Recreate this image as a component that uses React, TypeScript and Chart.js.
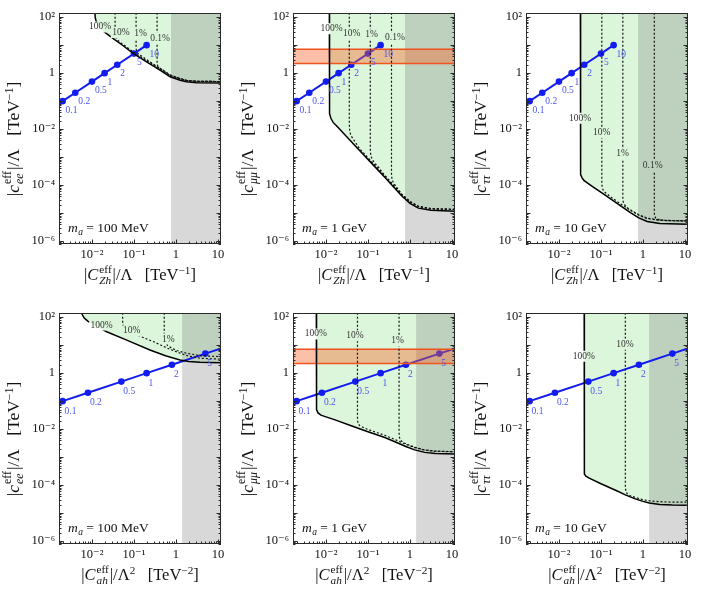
import React, { useEffect, useRef } from 'react';
import { Chart, registerables } from 'chart.js';

Chart.register(...registerables);

type Pt = [number, number];

/* ---------------- data ---------------- */
const X_RANGE: Pt = [0.00164, 11.8];
const Y_RANGE: Pt = [7.9e-7, 141];
const X_TICKS = [0.01, 0.1, 1, 10];
const X_TICK_LABELS = ['10⁻²', '10⁻¹', '1', '10'];
const Y_TICKS = [1e-6, 1e-4, 1e-2, 1, 100];
const Y_TICK_LABELS = ['10⁻⁶', '10⁻⁴', '10⁻²', '1', '10²'];

const BENCH_LABELS = ['0.1', '0.2', '0.5', '1', '2', '5', '10'];
const BENCH_ZH_X = [0.002, 0.004, 0.01, 0.02, 0.04, 0.1, 0.2];
const BENCH_ZH_Y = [0.1, 0.2, 0.5, 1, 2, 5, 10];
const BENCH_ZH_START: Pt = [0.00164, 0.082];
const BENCH_AH_X = [0.002, 0.008, 0.05, 0.2, 0.8, 5];
const BENCH_AH_Y = [0.1, 0.2, 0.5, 1, 2, 5];
const BENCH_AH_START: Pt = [0.00164, 0.0905];
const BENCH_AH_END: Pt = [11.8, 7.67];

const GRAY_FROM_ZH = 0.76;
const GRAY_FROM_AH = 1.4;
const MUON_BAND: Pt = [2.2, 7.2];

// m_a = 100 MeV, c_ee vs C_Zh
const SOLID_EE_ZH: Pt[] = [[0.01175, 200], [0.01189, 100], [0.01259, 70.8], [0.01413, 50.1], [0.0166, 38.0], [0.0186, 31.6], [0.0316, 17.4], [0.0562, 9.33], [0.0955, 5.13], [0.1995, 2.51], [0.417, 1.29], [0.724, 0.741], [1.259, 0.562], [1.778, 0.49], [3.16, 0.457], [12.6, 0.447]];
const DOT10_EE_ZH: Pt[] = [[0.0355, 200], [0.0355, 26.3], [0.0363, 21.4], [0.038, 18.2], [0.0417, 14.8], [0.0501, 11.7], [0.0562, 10.5], [0.0955, 5.75], [0.1995, 2.82], [0.417, 1.445], [0.724, 0.832], [1.259, 0.631], [1.778, 0.55], [3.16, 0.513], [12.6, 0.501]];
const DOT1_EE_ZH: Pt[] = [[0.1122, 200], [0.1122, 7.94], [0.1148, 6.31], [0.1202, 5.37], [0.1318, 4.68], [0.1585, 3.89], [0.1995, 3.09], [0.417, 1.445], [0.724, 0.832], [1.259, 0.631], [1.778, 0.55], [3.16, 0.513], [12.6, 0.501]];
const DOT01_EE_ZH: Pt[] = [[0.355, 200], [0.355, 2.29], [0.363, 1.905], [0.38, 1.7], [0.417, 1.51], [0.501, 1.26], [0.724, 0.871], [1.259, 0.646], [1.778, 0.55], [3.16, 0.513], [12.6, 0.501]];

// m_a = 1 GeV, c_mumu vs C_Zh
const SOLID_MM_ZH: Pt[] = [[0.01202, 200], [0.01202, 0.0562], [0.0123, 0.0355], [0.01318, 0.024], [0.01479, 0.0174], [0.01778, 0.01318], [0.0316, 0.00525], [0.0631, 0.001738], [0.1259, 5.75e-4], [0.2512, 1.905e-4], [0.398, 8.91e-5], [0.631, 4.17e-5], [1.0, 2.24e-5], [1.585, 1.51e-5], [3.16, 1.26e-5], [12.6, 1.175e-5]];
const DOT10_MM_ZH: Pt[] = [[0.0359, 200], [0.0359, 0.01585], [0.0367, 0.00891], [0.0389, 0.00603], [0.0447, 0.00437], [0.0631, 0.002], [0.1259, 6.61e-4], [0.2512, 2.19e-4], [0.398, 1.023e-4], [0.631, 4.79e-5], [1.0, 2.57e-5], [1.585, 1.74e-5], [3.16, 1.445e-5], [12.6, 1.35e-5]];
const DOT1_MM_ZH: Pt[] = [[0.1135, 200], [0.1135, 0.002], [0.1161, 0.00126], [0.123, 9.12e-4], [0.1413, 6.31e-4], [0.1778, 4.37e-4], [0.2512, 2.19e-4], [0.398, 1.023e-4], [0.631, 4.79e-5], [1.0, 2.57e-5], [1.585, 1.74e-5], [3.16, 1.445e-5], [12.6, 1.35e-5]];
const DOT01_MM_ZH: Pt[] = [[0.363, 200], [0.363, 2.51e-4], [0.3715, 1.66e-4], [0.398, 1.26e-4], [0.468, 8.91e-5], [0.631, 4.79e-5], [1.0, 2.57e-5], [1.585, 1.74e-5], [3.16, 1.445e-5], [12.6, 1.35e-5]];

// m_a = 10 GeV, c_tautau vs C_Zh
const SOLID_TT_ZH: Pt[] = [[0.03236, 200], [0.03236, 3.55e-4], [0.0331, 2.4e-4], [0.0355, 1.82e-4], [0.0398, 1.445e-4], [0.0631, 8.91e-5], [0.1259, 4.37e-5], [0.2512, 2.14e-5], [0.501, 1.047e-5], [0.794, 6.76e-6], [1.259, 5.01e-6], [2.512, 4.27e-6], [12.6, 3.98e-6]];
const DOT10_TT_ZH: Pt[] = [[0.1047, 200], [0.1047, 1.122e-4], [0.1072, 7.94e-5], [0.1148, 6.31e-5], [0.1318, 5.13e-5], [0.1778, 3.63e-5], [0.2512, 2.51e-5], [0.501, 1.259e-5], [0.794, 8.51e-6], [1.259, 6.46e-6], [2.512, 5.5e-6], [12.6, 5.25e-6]];
const DOT1_TT_ZH: Pt[] = [[0.3311, 200], [0.3311, 3.55e-5], [0.3388, 2.51e-5], [0.363, 2.0e-5], [0.417, 1.585e-5], [0.501, 1.318e-5], [0.794, 8.71e-6], [1.259, 6.61e-6], [2.512, 5.62e-6], [12.6, 5.25e-6]];
const DOT01_TT_ZH: Pt[] = [[1.862, 200], [1.862, 1e-5], [1.905, 7.59e-6], [2.042, 6.46e-6], [2.512, 5.75e-6], [3.98, 5.37e-6], [12.6, 5.25e-6]];

// m_a = 100 MeV, c_ee vs C_ah
const SOLID_EE_AH: Pt[] = [[0.00537, 200], [0.00575, 131.8], [0.00646, 95.5], [0.00794, 72.4], [0.01122, 52.5], [0.0224, 30.2], [0.0631, 15.85], [0.2399, 6.76], [0.5623, 4.17], [1.245, 2.95], [1.995, 2.63], [3.715, 2.455], [12.6, 2.37]];
const DOT10_EE_AH: Pt[] = [[0.0537, 200], [0.0537, 60.3], [0.0562, 41.7], [0.0631, 33.9], [0.0891, 26.9], [0.138, 20.9], [0.3162, 12.6], [0.631, 7.76], [1.259, 5.13], [1.995, 4.07], [3.98, 3.39], [12.6, 3.16]];
const DOT1_EE_AH: Pt[] = [[0.5248, 200], [0.5248, 19.95], [0.5495, 13.2], [0.631, 9.77], [0.794, 7.76], [1.047, 6.46], [1.778, 5.13], [3.98, 4.17], [12.6, 3.89]];

// m_a = 1 GeV, c_mumu vs C_ah
const SOLID_MM_AH: Pt[] = [[0.00589, 200], [0.00589, 0.0708], [0.00603, 0.0501], [0.00646, 0.038], [0.00759, 0.0316], [0.01, 0.0275], [0.01585, 0.0219], [0.0398, 0.01318], [0.1, 0.00813], [0.2512, 0.00501], [0.4365, 0.00355], [0.794, 0.0024], [1.288, 0.00182], [2.239, 0.00148], [3.98, 0.00135], [12.6, 0.00129]];
const DOT10_MM_AH: Pt[] = [[0.0562, 200], [0.0562, 0.024], [0.0575, 0.0166], [0.0631, 0.01349], [0.0794, 0.01122], [0.1, 0.00977], [0.2512, 0.00603], [0.4365, 0.00427], [0.794, 0.00288], [1.288, 0.00219], [2.239, 0.00178], [3.98, 0.00162], [12.6, 0.00155]];
const DOT1_MM_AH: Pt[] = [[0.5495, 200], [0.5495, 0.00708], [0.5623, 0.00501], [0.6026, 0.00398], [0.708, 0.00324], [1.0, 0.00263], [1.288, 0.00226], [2.239, 0.0018], [3.98, 0.00164], [12.6, 0.00157]];

// m_a = 10 GeV, c_tautau vs C_ah
const SOLID_TT_AH: Pt[] = [[0.0398, 200], [0.0398, 3.55e-4], [0.0407, 2.51e-4], [0.0437, 2.09e-4], [0.0525, 1.78e-4], [0.1, 1.122e-4], [0.2512, 6.03e-5], [0.38, 4.47e-5], [0.631, 3.31e-5], [1.0, 2.63e-5], [1.413, 2.29e-5], [2.512, 2.04e-5], [5.01, 1.95e-5], [12.6, 1.905e-5]];
const DOT10_TT_AH: Pt[] = [[0.38, 200], [0.38, 8.91e-5], [0.389, 6.31e-5], [0.417, 5.01e-5], [0.501, 4.17e-5], [0.631, 3.72e-5], [1.0, 3.02e-5], [1.585, 2.69e-5], [3.16, 2.51e-5], [12.6, 2.45e-5]];

/* ---------------- styling / layout ---------------- */
const SERIF = "'Liberation Serif', 'DejaVu Serif', 'Times New Roman', serif";
const GREEN = 'rgb(219,246,219)';
const GRAY = 'rgba(115,115,115,0.28)';
const BLUE = 'rgb(18,28,240)';
const LABEL_BLUE = 'rgb(75,85,235)';
const ORANGE_FILL = 'rgba(245,105,45,0.42)';
const ORANGE_LINE = 'rgb(240,80,30)';

const YW = 48, PT = 8, PR = 8, XH = 24, FW = 162, FH = 231;

interface PctLabel { t: string; x: number; y: number }
interface PanelCfg {
  left: number; top: number;
  solid: Pt[]; dotted: Pt[][]; grayFrom: number; band?: Pt;
  benchX: number[]; benchY: number[]; benchStart: Pt; benchEnd?: Pt;
  labOff: Pt; pct: PctLabel[]; mass: string;
}

const PANELS: PanelCfg[] = [
  { left: 59, top: 13, solid: SOLID_EE_ZH, dotted: [DOT10_EE_ZH, DOT1_EE_ZH, DOT01_EE_ZH], grayFrom: GRAY_FROM_ZH,
    benchX: BENCH_ZH_X, benchY: BENCH_ZH_Y, benchStart: BENCH_ZH_START, labOff: [3, 9], mass: '100 MeV',
    pct: [{ t: '100%', x: 0.0155, y: 45 }, { t: '10%', x: 0.049, y: 28.5 }, { t: '1%', x: 0.143, y: 25.6 }, { t: '0.1%', x: 0.417, y: 18 }] },
  { left: 293, top: 13, solid: SOLID_MM_ZH, dotted: [DOT10_MM_ZH, DOT1_MM_ZH, DOT01_MM_ZH], grayFrom: GRAY_FROM_ZH, band: MUON_BAND,
    benchX: BENCH_ZH_X, benchY: BENCH_ZH_Y, benchStart: BENCH_ZH_START, labOff: [3, 9], mass: '1 GeV',
    pct: [{ t: '100%', x: 0.01368, y: 39 }, { t: '10%', x: 0.0409, y: 26 }, { t: '1%', x: 0.1225, y: 23.5 }, { t: '0.1%', x: 0.44, y: 18.3 }] },
  { left: 526, top: 13, solid: SOLID_TT_ZH, dotted: [DOT10_TT_ZH, DOT1_TT_ZH, DOT01_TT_ZH], grayFrom: GRAY_FROM_ZH,
    benchX: BENCH_ZH_X, benchY: BENCH_ZH_Y, benchStart: BENCH_ZH_START, labOff: [3, 9], mass: '10 GeV',
    pct: [{ t: '100%', x: 0.0316, y: 0.0245 }, { t: '10%', x: 0.104, y: 0.0075 }, { t: '1%', x: 0.329, y: 0.0013 }, { t: '0.1%', x: 1.7, y: 0.0005 }] },
  { left: 59, top: 313, solid: SOLID_EE_AH, dotted: [DOT10_EE_AH, DOT1_EE_AH], grayFrom: GRAY_FROM_AH,
    benchX: BENCH_AH_X, benchY: BENCH_AH_Y, benchStart: BENCH_AH_START, benchEnd: BENCH_AH_END, labOff: [2, 10], mass: '100 MeV',
    pct: [{ t: '100%', x: 0.017, y: 52.5 }, { t: '10%', x: 0.088, y: 32.1 }, { t: '1%', x: 0.656, y: 16.6 }] },
  { left: 293, top: 313, solid: SOLID_MM_AH, dotted: [DOT10_MM_AH, DOT1_MM_AH], grayFrom: GRAY_FROM_AH, band: MUON_BAND,
    benchX: BENCH_AH_X, benchY: BENCH_AH_Y, benchStart: BENCH_AH_START, benchEnd: BENCH_AH_END, labOff: [2, 10], mass: '1 GeV',
    pct: [{ t: '100%', x: 0.00572, y: 25.1 }, { t: '10%', x: 0.049, y: 21.7 }, { t: '1%', x: 0.504, y: 14.1 }] },
  { left: 526, top: 313, solid: SOLID_TT_AH, dotted: [DOT10_TT_AH], grayFrom: GRAY_FROM_AH,
    benchX: BENCH_AH_X, benchY: BENCH_AH_Y, benchStart: BENCH_AH_START, benchEnd: BENCH_AH_END, labOff: [2, 10], mass: '10 GeV',
    pct: [{ t: '100%', x: 0.039, y: 4.02 }, { t: '10%', x: 0.373, y: 10.8 }] },
];

const toXY = (pts: Pt[]) => pts.map(([x, y]) => ({ x, y }));
const tickLabel = (v: number, ticks: number[], labels: string[]) => {
  const i = ticks.findIndex((t) => Math.abs(Math.log10(t) - Math.log10(v)) < 1e-6);
  return i >= 0 ? labels[i] : '';
};

function decor(p: PanelCfg) {
  const pctFont = `9.5px ${SERIF}`;
  const gapRects = (chart: any) => {
    const ctx = chart.ctx;
    ctx.save();
    ctx.font = pctFont;
    const xs = chart.scales.x, ys = chart.scales.y;
    const r = p.pct.map((l) => {
      const w = ctx.measureText(l.t).width + 3;
      const cx = xs.getPixelForValue(l.x), cy = ys.getPixelForValue(l.y);
      return { x: cx - w / 2, y: cy - 5.5, w, h: 11 };
    });
    ctx.restore();
    return r;
  };
  return {
    id: 'decor',
    beforeDatasetDraw(chart: any, args: any) {
      const ds = chart.data.datasets[args.index];
      if (!ds.gapped) return;
      const ctx = chart.ctx;
      const rects = gapRects(chart);
      ctx.save();
      ctx.beginPath();
      ctx.rect(0, 0, chart.width, chart.height);
      rects.forEach((r: any) => ctx.rect(r.x, r.y, r.w, r.h));
      ctx.clip('evenodd');
    },
    afterDatasetDraw(chart: any, args: any) {
      const ds = chart.data.datasets[args.index];
      if (!ds.gapped) return;
      chart.ctx.restore();
    },
    afterDatasetsDraw(chart: any) {
      const ctx = chart.ctx;
      const xs = chart.scales.x, ys = chart.scales.y;
      ctx.save();
      ctx.font = pctFont;
      ctx.fillStyle = '#333';
      ctx.textAlign = 'center';
      ctx.textBaseline = 'middle';
      p.pct.forEach((l) => ctx.fillText(l.t, xs.getPixelForValue(l.x), ys.getPixelForValue(l.y)));
      ctx.font = `9.5px ${SERIF}`;
      ctx.fillStyle = LABEL_BLUE;
      ctx.textAlign = 'left';
      p.benchX.forEach((x, i) => {
        ctx.fillText(BENCH_LABELS[i], xs.getPixelForValue(x) + p.labOff[0], ys.getPixelForValue(p.benchY[i]) + p.labOff[1]);
      });
      const { left, bottom } = chart.chartArea;
      let x = left + 9;
      const y = bottom - 12;
      ctx.textBaseline = 'alphabetic';
      ctx.fillStyle = '#111';
      ctx.font = `italic 13.5px ${SERIF}`;
      ctx.fillText('m', x, y);
      x += ctx.measureText('m').width;
      ctx.font = `italic 9.5px ${SERIF}`;
      ctx.fillText('a', x + 0.5, y + 3);
      x += ctx.measureText('a').width + 0.5;
      ctx.font = `13.5px ${SERIF}`;
      ctx.fillText(' = ' + p.mass, x, y);
      ctx.restore();
    },
    afterDraw(chart: any) {
      const ctx = chart.ctx;
      const { left, right, top, bottom } = chart.chartArea;
      const xs = chart.scales.x, ys = chart.scales.y;
      ctx.save();
      ctx.strokeStyle = '#2a2a2a';
      ctx.lineWidth = 1;
      ctx.beginPath();
      for (let e = -3; e <= 1; e++) {
        for (let m = 1; m <= 9; m++) {
          const v = m * Math.pow(10, e);
          if (v < X_RANGE[0] || v > X_RANGE[1]) continue;
          const px = Math.round(xs.getPixelForValue(v)) + 0.5;
          const len = m === 1 ? 4.5 : 2.5;
          ctx.moveTo(px, bottom);
          ctx.lineTo(px, bottom - len);
        }
      }
      for (let e = -7; e <= 2; e++) {
        for (let m = 1; m <= 9; m++) {
          const v = m * Math.pow(10, e);
          if (v < Y_RANGE[0] || v > Y_RANGE[1]) continue;
          const py = Math.round(ys.getPixelForValue(v)) + 0.5;
          const len = m === 1 ? 4.5 : 2.5;
          ctx.moveTo(left, py);
          ctx.lineTo(left + len, py);
          ctx.moveTo(right, py);
          ctx.lineTo(right - len, py);
        }
      }
      ctx.stroke();
      ctx.strokeRect(left + 0.5, top + 0.5, right - left - 1, bottom - top - 1);
      ctx.restore();
    },
  };
}

function buildConfig(p: PanelCfg): any {
  const benchData: Pt[] = [p.benchStart, ...p.benchX.map((x, i) => [x, p.benchY[i]] as Pt)];
  const radii = [0, ...p.benchX.map(() => 3.3)];
  if (p.benchEnd) { benchData.push(p.benchEnd); radii.push(0); }
  const datasets: any[] = [
    { data: toXY(p.solid), borderColor: '#000', borderWidth: 1.5, pointRadius: 0, fill: false, order: 1, clip: 0, gapped: true },
    ...p.dotted.map((d) => ({ data: toXY(d), borderColor: '#111', borderWidth: 1.2, borderDash: [2, 2], pointRadius: 0, fill: false, order: 2, clip: 0, gapped: true })),
  ];
  if (p.band) {
    datasets.push(
      { data: toXY([[X_RANGE[0], p.band[1]], [X_RANGE[1], p.band[1]]]), borderColor: ORANGE_LINE, borderWidth: 1.5, backgroundColor: ORANGE_FILL, fill: '+1', pointRadius: 0, order: 3, clip: 0 },
      { data: toXY([[X_RANGE[0], p.band[0]], [X_RANGE[1], p.band[0]]]), borderColor: ORANGE_LINE, borderWidth: 1.5, fill: false, pointRadius: 0, order: 3, clip: 0 },
    );
  }
  datasets.push(
    { data: toXY(benchData), borderColor: BLUE, backgroundColor: BLUE, borderWidth: 2, pointRadius: radii, pointBorderWidth: 0, pointBackgroundColor: BLUE, fill: false, order: 4 },
    { data: toXY([[p.grayFrom, Y_RANGE[1]], [X_RANGE[1], Y_RANGE[1]]]), borderWidth: 0, pointRadius: 0, backgroundColor: GRAY, fill: 'start', order: 5, clip: 0 },
    { data: toXY(p.solid), borderWidth: 0, pointRadius: 0, backgroundColor: GREEN, fill: 'end', order: 6, clip: 0 },
  );
  const tickFont = { family: SERIF, size: 12.5 };
  return {
    type: 'line',
    data: { datasets },
    options: {
      animation: false,
      responsive: false,
      events: [],
      layout: { padding: { left: 0, top: PT, right: PR, bottom: 0 } },
      plugins: { legend: { display: false }, tooltip: { enabled: false } },
      scales: {
        x: {
          type: 'logarithmic', position: 'bottom', min: X_RANGE[0], max: X_RANGE[1],
          grid: { display: false, drawTicks: false }, border: { display: false },
          ticks: { autoSkip: false, maxRotation: 0, padding: 3, font: tickFont, color: '#111',
            callback: (v: number) => tickLabel(v, X_TICKS, X_TICK_LABELS) },
          afterBuildTicks: (s: any) => { s.ticks = X_TICKS.map((v) => ({ value: v })); },
          afterFit: (s: any) => { s.height = XH; s.paddingLeft = 0; s.paddingRight = 0; },
        },
        y: {
          type: 'logarithmic', position: 'left', min: Y_RANGE[0], max: Y_RANGE[1],
          grid: { display: false, drawTicks: false }, border: { display: false },
          ticks: { autoSkip: false, padding: 4, font: tickFont, color: '#111',
            callback: (v: number) => tickLabel(v, Y_TICKS, Y_TICK_LABELS) },
          afterBuildTicks: (s: any) => { s.ticks = Y_TICKS.map((v) => ({ value: v })); },
          afterFit: (s: any) => { s.width = YW; s.paddingTop = 0; s.paddingBottom = 0; },
        },
      },
    },
    plugins: [decor(p)],
  };
}

function Panel({ p }: { p: PanelCfg }) {
  const ref = useRef<HTMLCanvasElement>(null);
  useEffect(() => {
    const chart = new Chart(ref.current as HTMLCanvasElement, buildConfig(p));
    return () => chart.destroy();
  }, []);
  const w = YW + FW + PR, h = PT + FH + XH;
  return (
    <canvas ref={ref} width={w} height={h}
      style={{ position: 'absolute', left: p.left - YW, top: p.top - PT, width: w, height: h }} />
  );
}

const SupSub = ({ sup, sub }: { sup: string; sub: string }) => (
  <span style={{ display: 'inline-flex', flexDirection: 'column', verticalAlign: 'middle', fontSize: '0.68em', lineHeight: 1.0, margin: '0 1px', position: 'relative', top: '-0.08em' }}>
    <span>{sup}</span>
    <span style={{ fontStyle: 'italic' }}>{sub}</span>
  </span>
);
const Sup = ({ c }: { c: string }) => (
  <span style={{ fontSize: '0.68em', verticalAlign: '0.5em', lineHeight: 0 }}>{c}</span>
);

function XTitle({ cx, cy, ah }: { cx: number; cy: number; ah: boolean }) {
  return (
    <div style={{ position: 'absolute', left: cx, top: cy, transform: 'translate(-50%,-50%)', whiteSpace: 'nowrap', fontSize: 16.5, lineHeight: 1, fontFamily: SERIF, color: '#111' }}>
      |<i>C</i><SupSub sup="eff" sub={ah ? 'ah' : 'Zh'} />|/Λ{ah ? <Sup c="2" /> : null}{'\u2002 '}[TeV<Sup c={ah ? '−2' : '−1'} />]
    </div>
  );
}

function YTitle({ cx, cy, sub }: { cx: number; cy: number; sub: string }) {
  return (
    <div style={{ position: 'absolute', left: cx, top: cy, transform: 'translate(-50%,-50%) rotate(-90deg)', whiteSpace: 'nowrap', fontSize: 17.5, lineHeight: 1, fontFamily: SERIF, color: '#111' }}>
      |<i>c</i><SupSub sup="eff" sub={sub} />|/Λ{'\u2002 '}[TeV<Sup c="−1" />]
    </div>
  );
}

const Y_SUBS = ['ee', 'μμ', 'ττ'];

export default function App() {
  return (
    <div style={{ position: 'absolute', left: 0, top: 0, width: 706, height: 605, background: '#fff', overflow: 'hidden' }}>
      {PANELS.map((p, i) => <Panel key={i} p={p} />)}
      {PANELS.map((p, i) => (
        <XTitle key={'x' + i} cx={p.left + FW / 2} cy={p.top + 263} ah={i >= 3} />
      ))}
      {PANELS.map((p, i) => (
        <YTitle key={'y' + i} cx={p.left - 44} cy={p.top + 126} sub={Y_SUBS[i % 3]} />
      ))}
    </div>
  );
}
